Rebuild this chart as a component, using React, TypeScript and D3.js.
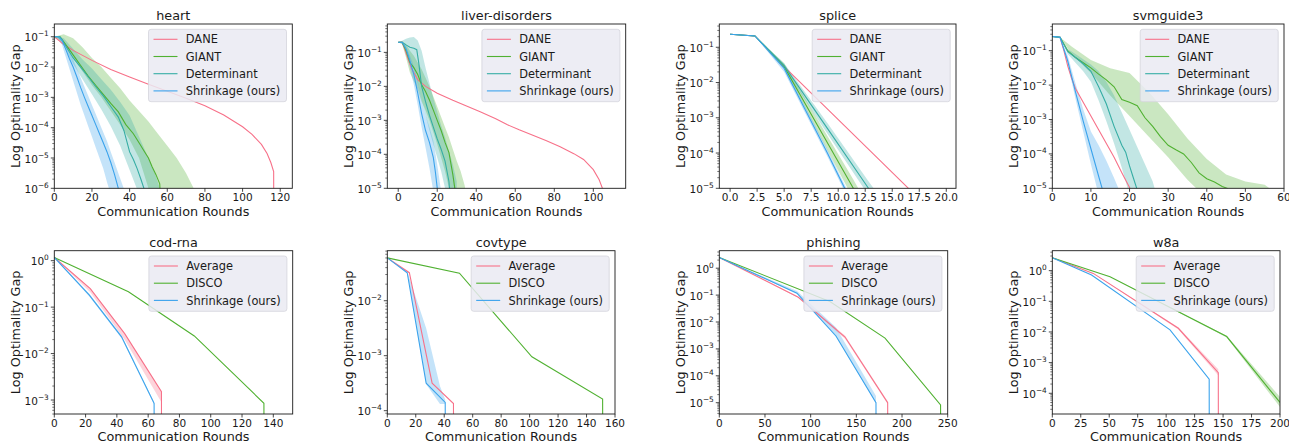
import React from "react";
import * as d3 from "d3";

// ---------- palette / labels ----------
const C_PINK = "#f77189";
const C_GREEN = "#50b131";
const C_TEAL = "#36ada4";
const C_BLUE = "#3ba3ec";

const topNames = ["DANE", "GIANT", "Determinant", "Shrinkage (ours)"];
const bottomNames = ["Average", "DISCO", "Shrinkage (ours)"];
const titles = ["heart", "liver-disorders", "splice", "svmguide3", "cod-rna", "covtype", "phishing", "w8a"];

// ---------- tick labels ----------
const heartXTicks = [0, 20, 40, 60, 80, 100, 120];
const liverXTicks = [0, 20, 40, 60, 80, 100];
const spliceXTicks = [0, 2.5, 5, 7.5, 10, 12.5, 15, 17.5, 20];
const svmXTicks = [0, 10, 20, 30, 40, 50, 60];
const codXTicks = [0, 20, 40, 60, 80, 100, 120, 140];
const covXTicks = [0, 20, 40, 60, 80, 100, 120, 140, 160];
const phishXTicks = [0, 50, 100, 150, 200, 250];
const w8aXTicks = [0, 25, 50, 75, 100, 125, 150, 175, 200];

// ---------- data (values are log10 of the optimality gap) ----------
// heart
const heartDaneX = [0, 5, 10, 20, 30, 40, 50, 60, 70, 80, 90, 100, 105, 110, 113, 115, 116.5, 116.6];
const heartDane = [-1.0, -1.25, -1.45, -1.78, -2.08, -2.33, -2.57, -2.8, -3.03, -3.28, -3.58, -3.97, -4.22, -4.55, -4.85, -5.15, -5.45, -8];
const heartGiantX = [0, 3, 6, 10, 14, 18, 22, 26, 30, 34, 38, 42, 45, 48, 50, 52, 54, 56, 56.8];
const heartGiant = [-1, -1.0, -1.25, -1.6, -1.95, -2.3, -2.6, -2.9, -3.2, -3.48, -3.9, -4.2, -4.5, -4.8, -5.0, -5.3, -5.55, -5.85, -7];
const heartGiantBX = [0, 5, 10, 15, 20, 25, 30, 35, 40, 45, 50, 55, 60, 65, 70, 74, 76];
const heartGiantLo = [-1.0, -1.2, -1.7, -2.15, -2.6, -3.0, -3.45, -3.9, -4.4, -5.0, -6.0, -7, -7, -7, -7, -7, -7];
const heartGiantHi = [-1.0, -0.92, -1.05, -1.35, -1.7, -2.0, -2.35, -2.7, -3.1, -3.45, -3.8, -4.2, -4.6, -5.0, -5.5, -6.0, -6.3];
const heartDetX = [0, 3, 6, 10, 14, 18, 22, 26, 30, 34, 37, 40, 42, 44, 46, 47.6, 47.7];
const heartDet = [-1, -1.0, -1.3, -1.7, -2.0, -2.32, -2.65, -2.95, -3.3, -3.65, -4.1, -4.8, -5.05, -5.35, -5.7, -6.0, -7];
const heartDetBX = [0, 5, 10, 15, 20, 25, 30, 35, 40, 45, 50, 54, 56, 58];
const heartDetLo = [-1, -1.3, -1.9, -2.4, -2.9, -3.4, -3.95, -4.6, -5.4, -6.2, -7, -7, -7, -7];
const heartDetHi = [-1, -1.05, -1.4, -1.75, -2.05, -2.4, -2.75, -3.15, -3.6, -4.3, -5.0, -5.6, -6.0, -6.5];
const heartShrX = [0, 2, 4, 6, 8, 10, 12, 14, 16, 18, 20, 22, 24, 26, 28, 30, 32, 34, 34.1];
const heartShr = [-1, -1, -1.1, -1.4, -1.72, -2.0, -2.33, -2.68, -3.0, -3.3, -3.6, -3.9, -4.2, -4.5, -4.8, -5.15, -5.55, -6.0, -7];
const heartShrBX = [0, 2, 4, 6, 8, 10, 12, 14, 16, 18, 20, 22, 24, 26, 28, 30, 32, 34, 36, 38];
const heartShrLo = [-1, -1.02, -1.25, -1.65, -2.05, -2.45, -2.85, -3.25, -3.6, -3.95, -4.3, -4.65, -5.0, -5.35, -5.8, -6.2, -6.6, -7, -7, -7];
const heartShrHi = [-1, -1, -1.02, -1.25, -1.5, -1.75, -2.05, -2.35, -2.65, -2.95, -3.25, -3.55, -3.85, -4.15, -4.45, -4.8, -5.15, -5.5, -5.85, -6.2];

// liver-disorders
const liverDaneX = [0, 2, 3, 5, 7, 10, 14, 20, 28, 35, 42, 50, 56, 62, 69, 76, 83, 90, 95, 100, 103, 105, 107];
const liverDane = [-0.7, -0.7, -0.85, -1.2, -1.5, -1.8, -2.0, -2.2, -2.41, -2.58, -2.75, -2.95, -3.13, -3.28, -3.44, -3.6, -3.78, -3.98, -4.15, -4.45, -4.75, -5.05, -5.4];
const liverGiantX = [0, 2, 4, 6, 8, 10, 12, 14, 16, 18, 20, 22, 24, 26, 28, 29, 30];
const liverGiant = [-0.7, -0.7, -0.95, -1.3, -1.45, -1.65, -1.95, -2.15, -2.4, -2.7, -3.0, -3.3, -3.65, -3.95, -4.6, -5.0, -5.6];
const liverGiantBX = [0, 2, 4, 6, 8, 10, 12, 14, 16, 18, 20, 22, 24, 26, 28, 30, 32, 34, 35];
const liverGiantLo = [-0.7, -0.75, -1.15, -1.6, -1.85, -2.1, -2.45, -2.7, -3.0, -3.35, -3.7, -4.1, -4.5, -5.0, -5.6, -6, -6, -6, -6];
const liverGiantHi = [-0.7, -0.68, -0.75, -0.95, -1.1, -1.3, -1.5, -1.75, -2.0, -2.3, -2.6, -2.9, -3.2, -3.5, -3.85, -4.2, -4.5, -4.9, -5.2];
const liverDetX = [0, 2, 4, 6, 8, 9.5, 10.5, 12, 14, 16, 18, 20, 22, 24, 26, 27];
const liverDet = [-0.7, -0.7, -0.78, -0.85, -0.88, -0.92, -1.3, -2.0, -2.45, -2.85, -3.2, -3.55, -3.85, -4.2, -4.8, -5.5];
const liverDetBX = [0, 2, 4, 6, 8, 10, 12, 14, 16, 18, 20, 22, 24, 26, 28, 30];
const liverDetLo = [-0.7, -0.75, -0.95, -1.2, -1.5, -1.9, -2.4, -2.85, -3.3, -3.7, -4.1, -4.5, -5.0, -5.6, -6, -6];
const liverDetHi = [-0.7, -0.66, -0.6, -0.56, -0.55, -0.65, -0.95, -1.45, -1.9, -2.35, -2.75, -3.15, -3.5, -3.9, -4.3, -4.8];
const liverShrX = [0, 2, 4, 6, 8, 10, 12, 14, 16, 18, 19, 20, 20.5];
const liverShr = [-0.7, -0.7, -0.9, -1.25, -1.65, -2.2, -2.8, -3.3, -3.65, -4.1, -4.5, -5.0, -5.5];
const liverShrBX = [0, 2, 4, 6, 8, 10, 12, 14, 16, 18, 20, 22];
const liverShrLo = [-0.7, -0.72, -1.0, -1.45, -1.95, -2.55, -3.2, -3.8, -4.4, -5.1, -6, -7];
const liverShrHi = [-0.7, -0.7, -0.82, -1.1, -1.4, -1.85, -2.4, -2.85, -3.2, -3.6, -4.3, -5.1];

// splice
const spliceDaneX = [0, 1, 2.3, 5, 8, 11, 14, 16.5, 18];
const spliceDane = [-0.63, -0.65, -0.68, -1.55, -2.45, -3.35, -4.25, -5.0, -5.45];
const spliceGiantX = [0, 1, 2.3, 5, 8, 11.4, 12.5];
const spliceGiant = [-0.63, -0.65, -0.68, -1.55, -3.17, -5.0, -5.6];
const spliceGiantLo = [-0.63, -0.65, -0.68, -1.6, -3.35, -5.3, -5.9];
const spliceGiantHi = [-0.63, -0.65, -0.68, -1.45, -3.0, -4.75, -5.35];
const spliceDetX = [0, 1, 2.3, 5, 9, 12.8, 14];
const spliceDet = [-0.63, -0.65, -0.68, -1.52, -3.3, -5.0, -5.5];
const spliceDetLo = [-0.63, -0.65, -0.68, -1.6, -3.45, -5.2, -5.8];
const spliceDetHi = [-0.63, -0.65, -0.68, -1.45, -3.15, -4.8, -5.3];
const spliceShrX = [0, 1, 2.3, 5, 7, 9, 10.6, 11.5];
const spliceShr = [-0.63, -0.65, -0.68, -1.6, -2.8, -4.0, -5.0, -5.55];
const spliceShrLo = [-0.63, -0.65, -0.68, -1.7, -2.9, -4.1, -5.1, -5.7];
const spliceShrHi = [-0.63, -0.65, -0.68, -1.5, -2.7, -3.9, -4.9, -5.45];

// svmguide3
const svmDaneX = [0, 1, 2, 3, 4, 5, 6, 8, 10, 12, 14, 16, 18, 20.1, 21];
const svmDane = [-0.59, -0.6, -0.61, -1.0, -1.45, -1.8, -2.1, -2.5, -2.9, -3.3, -3.7, -4.1, -4.55, -5.0, -5.3];
const svmGiantX = [0, 1, 2, 4, 6, 8, 10, 12, 14, 16, 18, 20, 22, 24, 26, 28, 30, 32, 34, 36, 38, 40, 42, 44, 45.3, 46];
const svmGiant = [-0.59, -0.6, -0.61, -1.0, -1.2, -1.35, -1.5, -1.68, -1.85, -2.05, -2.42, -2.5, -2.6, -2.95, -3.2, -3.5, -3.75, -3.88, -4.0, -4.25, -4.55, -4.72, -4.82, -4.95, -5.0, -5.3];
const svmGiantBX = [0, 1, 2, 5, 10, 15, 20, 25, 30, 35, 40, 45, 50, 55, 57.5, 58];
const svmGiantLo = [-0.59, -0.6, -0.61, -1.1, -1.65, -2.3, -2.9, -3.5, -4.1, -4.75, -5.3, -6, -6, -6, -6, -6];
const svmGiantHi = [-0.59, -0.6, -0.61, -0.88, -1.27, -1.51, -1.65, -2.2, -2.85, -3.55, -4.15, -4.6, -4.8, -4.9, -5.1, -6];
const svmDetX = [0, 1, 2, 4, 6, 8, 10, 12, 14, 16, 18, 19, 20, 21, 22, 22.5];
const svmDet = [-0.59, -0.6, -0.61, -1.03, -1.2, -1.38, -1.6, -2.05, -2.55, -3.2, -3.75, -3.95, -4.35, -4.7, -5.05, -5.5];
const svmDetBX = [0, 2, 4, 6, 8, 10, 12, 14, 16, 18, 20, 22, 24, 26, 27];
const svmDetLo = [-0.59, -0.61, -1.1, -1.35, -1.6, -1.9, -2.45, -3.05, -3.7, -4.4, -5.2, -6, -6, -6, -6];
const svmDetHi = [-0.59, -0.61, -0.95, -1.1, -1.25, -1.4, -1.6, -1.9, -2.3, -2.8, -3.3, -3.8, -4.3, -4.8, -5.2];
const svmShrX = [0, 1, 2, 4, 6, 8, 10, 12, 12.9, 13.3];
const svmShr = [-0.59, -0.6, -0.61, -1.3, -2.2, -3.05, -3.85, -4.65, -5.0, -5.6];
const svmShrBX = [0, 1, 2, 4, 6, 8, 10, 12, 14, 16, 17.5];
const svmShrLo = [-0.59, -0.6, -0.61, -1.4, -2.4, -3.35, -4.3, -5.2, -6, -6.5, -7];
const svmShrHi = [-0.59, -0.6, -0.61, -1.15, -1.95, -2.7, -3.35, -3.75, -4.2, -4.7, -5.1];

// cod-rna
const codAvgX = [0, 23, 45, 68.5, 68.6];
const codAvg = [0.07, -0.6, -1.57, -2.82, -5];
const codAvgBX = [0, 23, 45, 68.5];
const codAvgLo = [0.07, -0.68, -1.7, -3.05];
const codAvgHi = [0.07, -0.6, -1.57, -2.82];
const codDiscoX = [0, 47.4, 89.5, 134, 134.1];
const codDisco = [0.07, -0.67, -1.62, -3.07, -5];
const codShrX = [0, 22.4, 43, 63.8, 63.9];
const codShr = [0.07, -0.74, -1.64, -3.07, -5];
const codShrBX = [0, 22.4, 43, 63.8];
const codShrLo = [0.07, -0.77, -1.67, -3.1];
const codShrHi = [0.07, -0.71, -1.61, -3.04];

// covtype
const covAvgX = [0, 15.5, 31.5, 46.5, 46.6];
const covAvg = [-1.22, -1.49, -3.5, -3.87, -5];
const covDiscoX = [0, 50.7, 101.6, 151.3, 151.4];
const covDisco = [-1.22, -1.5, -3.02, -3.79, -5];
const covShrX = [0, 14, 27.3, 40.7, 40.8];
const covShr = [-1.22, -1.49, -3.5, -3.85, -5];
const covShrBX = [0, 14, 27.3, 37, 40.7];
const covShrLo = [-1.22, -1.5, -3.52, -3.88, -3.88];
const covShrHi = [-1.22, -1.47, -2.5, -3.55, -3.8];

// phishing
const phishAvgX = [0, 86.5, 137.6, 184.3, 184.4];
const phishAvg = [0.4, -1.08, -2.56, -5.0, -7];
const phishAvgBX = [0, 86.5, 137.6, 184.3];
const phishAvgLo = [0.4, -1.1, -2.62, -5.05];
const phishAvgHi = [0.4, -1.06, -2.5, -4.95];
const phishDiscoX = [0, 121, 181.4, 242.2, 242.3];
const phishDisco = [0.4, -1.24, -2.6, -5.08, -7];
const phishShrX = [0, 85, 127.7, 171.5, 171.6];
const phishShr = [0.4, -0.93, -2.52, -5.0, -7];
const phishShrBX = [0, 85, 127.7, 171.5];
const phishShrLo = [0.4, -0.95, -2.55, -5.02];
const phishShrHi = [0.4, -0.85, -2.2, -4.75];

// w8a
const w8aAvgX = [0, 36, 110.7, 145.8, 145.9];
const w8aAvg = [0.42, -0.09, -1.88, -3.33, -6];
const w8aAvgBX = [0, 36, 110.7, 145.8];
const w8aAvgLo = [0.42, -0.09, -1.92, -3.42];
const w8aAvgHi = [0.42, -0.09, -1.85, -3.22];
const w8aDiscoX = [0, 50.7, 153.2, 200];
const w8aDisco = [0.42, -0.2, -2.15, -4.3];
const w8aDiscoBX = [0, 50.7, 153.2, 200];
const w8aDiscoLo = [0.42, -0.2, -2.18, -4.45];
const w8aDiscoHi = [0.42, -0.2, -2.12, -4.12];
const w8aShrX = [0, 34.5, 103.4, 137.8, 137.9];
const w8aShr = [0.42, -0.14, -1.93, -3.54, -6];

// ---------- structures ----------
type Series = {
  color: string;
  x: number[];
  y: number[];
  bx?: number[];
  lo?: number[];
  hi?: number[];
};

type PanelSpec = {
  title: string;
  l: number;
  r: number;
  t: number;
  b: number;
  xd: [number, number];
  yd: [number, number];
  xTicks: number[];
  xFmt: (v: number) => string;
  names: string[];
  series: Series[];
};

const S = (color: string, x: number[], y: number[], bx?: number[], lo?: number[], hi?: number[]): Series => ({ color, x, y, bx, lo, hi });

const intFmt = (v: number) => String(v);
const decFmt = d3.format(".1f");

const ROW1 = { t: 24, b: 188.3 };
const ROW2 = { t: 250.7, b: 414 };

const panels: PanelSpec[] = [
  {
    title: titles[0], l: 54.3, r: 292.3, ...ROW1, xd: [0, 126.4], yd: [1e-6, 0.263],
    xTicks: heartXTicks, xFmt: intFmt, names: topNames,
    series: [
      S(C_PINK, heartDaneX, heartDane),
      S(C_GREEN, heartGiantX, heartGiant, heartGiantBX, heartGiantLo, heartGiantHi),
      S(C_TEAL, heartDetX, heartDet, heartDetBX, heartDetLo, heartDetHi),
      S(C_BLUE, heartShrX, heartShr, heartShrBX, heartShrLo, heartShrHi),
    ],
  },
  {
    title: titles[1], l: 387.3, r: 625.7, ...ROW1, xd: [-5.6, 116.6], yd: [1e-5, 0.684],
    xTicks: liverXTicks, xFmt: intFmt, names: topNames,
    series: [
      S(C_PINK, liverDaneX, liverDane),
      S(C_GREEN, liverGiantX, liverGiant, liverGiantBX, liverGiantLo, liverGiantHi),
      S(C_TEAL, liverDetX, liverDet, liverDetBX, liverDetLo, liverDetHi),
      S(C_BLUE, liverShrX, liverShr, liverShrBX, liverShrLo, liverShrHi),
    ],
  },
  {
    title: titles[2], l: 719.3, r: 956, ...ROW1, xd: [-1, 20.9], yd: [1e-5, 0.457],
    xTicks: spliceXTicks, xFmt: (v) => decFmt(v), names: topNames,
    series: [
      S(C_PINK, spliceDaneX, spliceDane),
      S(C_GREEN, spliceGiantX, spliceGiant, spliceGiantX, spliceGiantLo, spliceGiantHi),
      S(C_TEAL, spliceDetX, spliceDet, spliceDetX, spliceDetLo, spliceDetHi),
      S(C_BLUE, spliceShrX, spliceShr, spliceShrX, spliceShrLo, spliceShrHi),
    ],
  },
  {
    title: titles[3], l: 1052.3, r: 1284, ...ROW1, xd: [0, 60], yd: [1e-5, 0.596],
    xTicks: svmXTicks, xFmt: intFmt, names: topNames,
    series: [
      S(C_PINK, svmDaneX, svmDane),
      S(C_GREEN, svmGiantX, svmGiant, svmGiantBX, svmGiantLo, svmGiantHi),
      S(C_TEAL, svmDetX, svmDet, svmDetBX, svmDetLo, svmDetHi),
      S(C_BLUE, svmShrX, svmShr, svmShrBX, svmShrLo, svmShrHi),
    ],
  },
  {
    title: titles[4], l: 54.3, r: 292.7, ...ROW2, xd: [0, 152.4], yd: [5.0e-4, 1.64],
    xTicks: codXTicks, xFmt: intFmt, names: bottomNames,
    series: [
      S(C_PINK, codAvgX, codAvg, codAvgBX, codAvgLo, codAvgHi),
      S(C_GREEN, codDiscoX, codDisco),
      S(C_BLUE, codShrX, codShr, codShrBX, codShrLo, codShrHi),
    ],
  },
  {
    title: titles[5], l: 387.3, r: 615, ...ROW2, xd: [0, 160], yd: [8.7e-5, 0.0813],
    xTicks: covXTicks, xFmt: intFmt, names: bottomNames,
    series: [
      S(C_PINK, covAvgX, covAvg),
      S(C_GREEN, covDiscoX, covDisco),
      S(C_BLUE, covShrX, covShr, covShrBX, covShrLo, covShrHi),
    ],
  },
  {
    title: titles[6], l: 719.3, r: 947.7, ...ROW2, xd: [0, 250], yd: [3.8e-6, 4.47],
    xTicks: phishXTicks, xFmt: intFmt, names: bottomNames,
    series: [
      S(C_PINK, phishAvgX, phishAvg, phishAvgBX, phishAvgLo, phishAvgHi),
      S(C_GREEN, phishDiscoX, phishDisco),
      S(C_BLUE, phishShrX, phishShr, phishShrBX, phishShrLo, phishShrHi),
    ],
  },
  {
    title: titles[7], l: 1052.3, r: 1280, ...ROW2, xd: [0, 200], yd: [2.11e-5, 4.47],
    xTicks: w8aXTicks, xFmt: intFmt, names: bottomNames,
    series: [
      S(C_PINK, w8aAvgX, w8aAvg, w8aAvgBX, w8aAvgLo, w8aAvgHi),
      S(C_GREEN, w8aDiscoX, w8aDisco, w8aDiscoBX, w8aDiscoLo, w8aDiscoHi),
      S(C_BLUE, w8aShrX, w8aShr),
    ],
  },
];

const FONT = "'DejaVu Sans', sans-serif";
const INK = "#1a1a1a";

function Panel({ p, idx }: { p: PanelSpec; idx: number }) {
  const x = d3.scaleLinear().domain(p.xd).range([p.l, p.r]);
  const y = d3.scaleLog().domain(p.yd).range([p.b, p.t]);
  const clipId = `clip-${idx}`;

  const line = d3
    .line<[number, number]>()
    .x((d) => x(d[0]))
    .y((d) => y(Math.pow(10, d[1])));
  const area = d3
    .area<[number, number, number]>()
    .x((d) => x(d[0]))
    .y0((d) => y(Math.pow(10, d[1])))
    .y1((d) => y(Math.pow(10, d[2])));

  const e0 = Math.ceil(Math.log10(p.yd[0]) - 1e-9);
  const e1 = Math.floor(Math.log10(p.yd[1]) + 1e-9);
  const majors = d3.range(e0, e1 + 1);
  const minors: number[] = [];
  for (let e = Math.floor(Math.log10(p.yd[0])); e <= e1; e++) {
    for (let m = 2; m <= 9; m++) {
      const v = m * Math.pow(10, e);
      if (v >= p.yd[0] && v <= p.yd[1]) minors.push(v);
    }
  }

  const n = p.names.length;
  const legW = 138;
  const legH = n * 17.1 + 4;
  const legX = p.r - 5.8 - legW;
  const legY = p.t + 5.3;
  const legendColors = p.series.map((s) => s.color);

  return (
    <g>
      <defs>
        <clipPath id={clipId}>
          <rect x={p.l} y={p.t} width={p.r - p.l} height={p.b - p.t} />
        </clipPath>
      </defs>
      <g clipPath={`url(#${clipId})`}>
        {p.series.map((s, i) =>
          s.bx && s.lo && s.hi ? (
            <path
              key={`b${i}`}
              d={area(s.bx.map((v, j) => [v, s.lo![j], s.hi![j]] as [number, number, number])) || ""}
              fill={s.color}
              fillOpacity={0.3}
              stroke="none"
            />
          ) : null
        )}
        {p.series.map((s, i) => (
          <path
            key={`l${i}`}
            d={line(s.x.map((v, j) => [v, s.y[j]] as [number, number])) || ""}
            fill="none"
            stroke={s.color}
            strokeWidth={1.1}
          />
        ))}
      </g>
      {/* frame */}
      <rect x={p.l} y={p.t} width={p.r - p.l} height={p.b - p.t} fill="none" stroke={INK} strokeWidth={0.9} />
      {/* x ticks */}
      {p.xTicks.map((v) => (
        <g key={`xt${v}`}>
          <line x1={x(v)} x2={x(v)} y1={p.b} y2={p.b + 3.5} stroke={INK} strokeWidth={0.8} />
          <text x={x(v)} y={p.b + 12.6} textAnchor="middle" fontSize={10.5} fontFamily={FONT} fill={INK}>
            {p.xFmt(v)}
          </text>
        </g>
      ))}
      {/* y minor ticks */}
      {minors.map((v, i) => (
        <line key={`ym${i}`} x1={p.l - 2} x2={p.l} y1={y(v)} y2={y(v)} stroke={INK} strokeWidth={0.6} />
      ))}
      {/* y major ticks */}
      {majors.map((e) => (
        <g key={`yt${e}`}>
          <line x1={p.l - 3.5} x2={p.l} y1={y(Math.pow(10, e))} y2={y(Math.pow(10, e))} stroke={INK} strokeWidth={0.8} />
          <text x={p.l - 5.5} y={y(Math.pow(10, e)) + 4.6} textAnchor="end" fontSize={10.5} fontFamily={FONT} fill={INK}>
            10
            <tspan dy={-5} fontSize={7.4}>
              {e < 0 ? `\u2212${-e}` : `${e}`}
            </tspan>
          </text>
        </g>
      ))}
      {/* title and axis labels */}
      <text x={(p.l + p.r) / 2} y={p.t - 4} textAnchor="middle" fontSize={12.8} fontFamily={FONT} fill={INK}>
        {p.title}
      </text>
      <text x={(p.l + p.r) / 2} y={p.b + 27.3} textAnchor="middle" fontSize={12.8} fontFamily={FONT} fill={INK}>
        Communication Rounds
      </text>
      <text
        transform={`translate(${p.l - 34.8},${(p.t + p.b) / 2}) rotate(-90)`}
        textAnchor="middle"
        fontSize={12.8}
        fontFamily={FONT}
        fill={INK}
      >
        Log Optimality Gap
      </text>
      {/* legend */}
      <rect x={legX} y={legY} width={legW} height={legH} rx={2.5} fill="#eaeaf2" fillOpacity={0.85} stroke="#d4d4dc" strokeWidth={0.8} />
      {p.names.map((nm, i) => {
        const yy = legY + 10 + i * 17.2;
        return (
          <g key={`lg${i}`}>
            <line x1={legX + 5} x2={legX + 29} y1={yy} y2={yy} stroke={legendColors[i]} strokeWidth={1.1} />
            <text x={legX + 37.3} y={yy + 4.1} fontSize={11.4} fontFamily={FONT} fill={INK}>
              {nm}
            </text>
          </g>
        );
      })}
    </g>
  );
}

export default function App() {
  return (
    <svg
      width={1289}
      height={443}
      viewBox="0 0 1289 443"
      style={{ position: "absolute", left: 0, top: 0, display: "block", background: "#ffffff" }}
    >
      <rect x={0} y={0} width={1289} height={443} fill="#ffffff" />
      {panels.map((p, i) => (
        <Panel key={i} p={p} idx={i} />
      ))}
    </svg>
  );
}
